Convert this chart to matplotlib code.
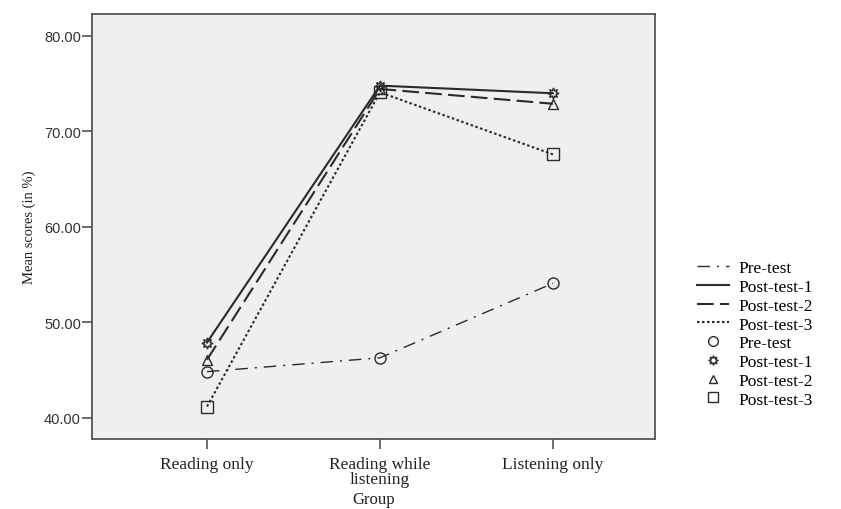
import matplotlib.pyplot as plt
from matplotlib.lines import Line2D

# --------- data -----------------
groups = ['Reading only', 'Reading while\nlistening', 'Listening only']
series_names = ['Pre-test', 'Post-test-1', 'Post-test-2', 'Post-test-3']
pre_test = [44.85, 46.3, 54.1]
post_test_1 = [47.9, 74.8, 74.0]
post_test_2 = [46.1, 74.45, 72.9]
post_test_3 = [41.2, 74.1, 67.6]
yticks = [40, 50, 60, 70, 80]

values = [pre_test, post_test_1, post_test_2, post_test_3]
styles = [(0, (9, 5, 1.5, 5)), '-', (0, (8, 3)), (0, (1.2, 1.2))]
widths = [1.0, 1.5, 1.5, 1.5]
markers = ['o', (8, 1, 0), '^', 's']
msizes = [8, 8, 7, 8]
col = '#2a2a2a'

fig = plt.figure(figsize=(8.41, 5.10), dpi=100)
ax = fig.add_axes([0.1094, 0.1373, 0.6694, 0.8333])
ax.set_facecolor('#eeeff1')

x = list(range(len(groups)))
for v, ls, lw, mk, ms in zip(values, styles, widths, markers, msizes):
    ax.plot(x, v, color=col, linestyle=ls, linewidth=lw)
    ax.plot(x, v, linestyle='none', marker=mk, markersize=ms,
            markerfacecolor='none', markeredgecolor=col, markeredgewidth=1.0)

ax.set_xlim(-0.665, 2.59)
ax.set_ylim(37.8, 82.3)
ax.set_xticks(x)
ax.set_xticklabels(groups, family='Liberation Serif', fontsize=12.5, color='#222222',
                   linespacing=0.95)
ax.set_yticks(yticks)
ax.set_yticklabels(['%.2f' % t for t in yticks], family='Liberation Sans',
                   fontsize=10.5, color='#333333')
ax.tick_params(axis='both', length=7, width=1.2, color='#555555')
ax.tick_params(axis='y', pad=1)
ax.tick_params(axis='x', pad=5)
for s in ax.spines.values():
    s.set_color('#555555')
    s.set_linewidth(1.3)

ax.set_xlabel('Group', family='Liberation Serif', fontsize=12, color='#222222',
              labelpad=3)
ax.set_ylabel('Mean scores (in %)', family='Liberation Serif', fontsize=10.5,
              color='#222222', labelpad=6)

handles = []
for ls, lw in zip(styles, widths):
    handles.append(Line2D([], [], color=col, linestyle=ls, linewidth=lw))
for mk, ms in zip(markers, msizes):
    handles.append(Line2D([], [], linestyle='none', marker=mk, markersize=ms - 1,
                          markerfacecolor='none', markeredgecolor=col))
labels = series_names + series_names

fig.legend(handles, labels, loc='upper left', bbox_to_anchor=(0.8288, 0.488),
           frameon=False, prop={'family': 'Liberation Serif', 'size': 12.5},
           handlelength=1.85, handletextpad=0.55, labelspacing=0.15,
           borderpad=0, borderaxespad=0)

fig.savefig('out.png', dpi=100)
